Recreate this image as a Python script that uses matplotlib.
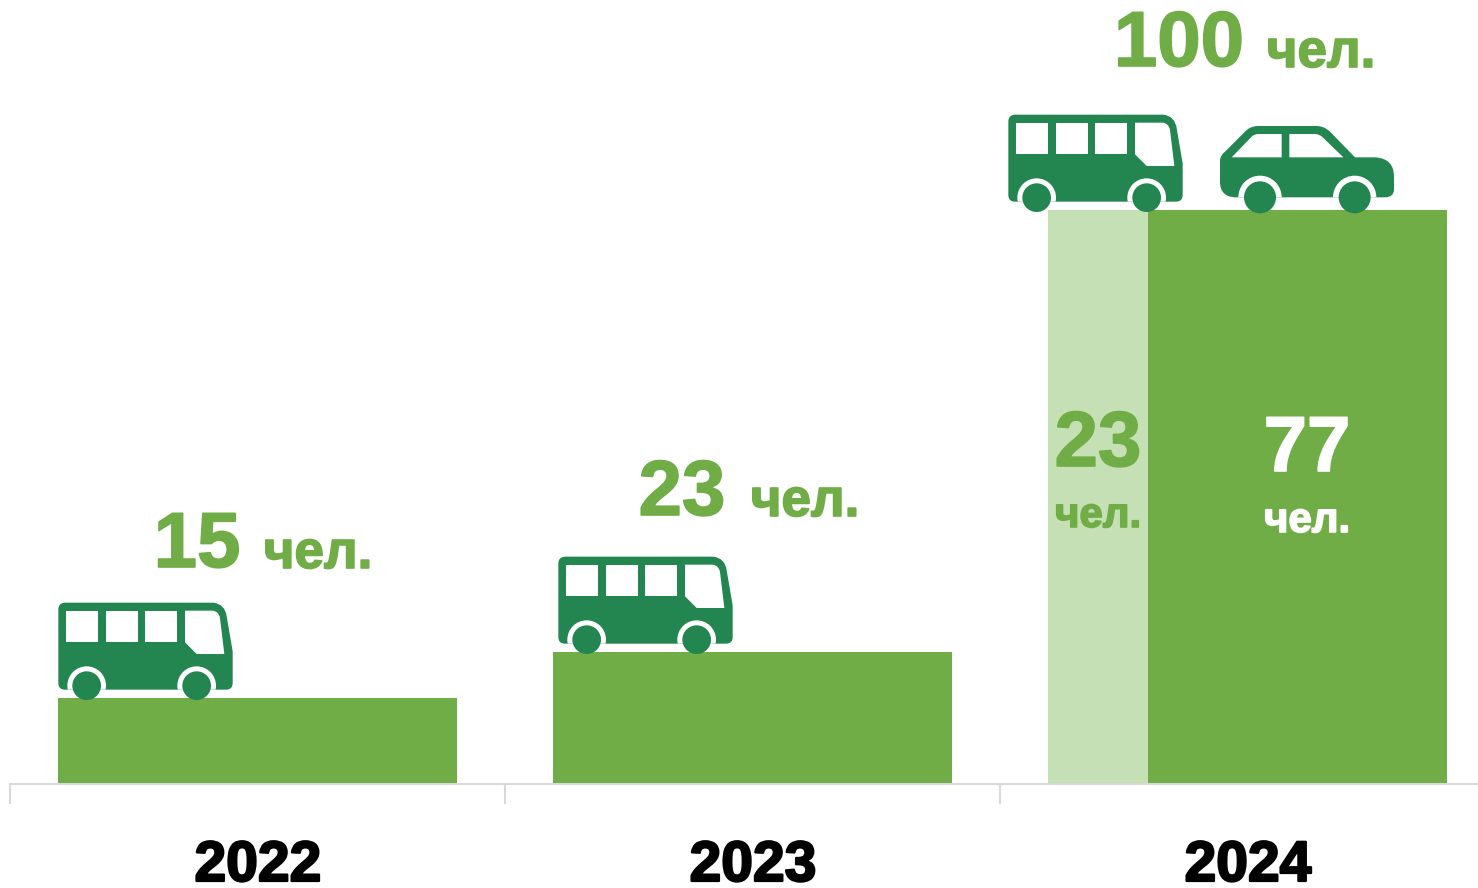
# Bar chart of staff count per year, with bus and car icons sitting on the bars

import matplotlib
matplotlib.use("Agg")
import matplotlib.pyplot as plt
import matplotlib.patheffects as pe
from matplotlib.path import Path
from matplotlib.patches import PathPatch, Circle
from matplotlib.transforms import Affine2D

years = ["2022", "2023", "2024"]
totals = [15, 23, 100]
bus_part = 23
car_part = 77
unit = "чел."

W = 1478
H = 888
GREEN = "#70ad47"
LIGHT = "#c5e0b4"
ICON = "#23854f"
AXIS = "#d9d9d9"

plt.rcParams["font.family"] = ["Liberation Sans", "DejaVu Sans"]

fig = plt.figure(figsize=(W / 100, H / 100), dpi=100, facecolor="white")

# real axes, baseline at y=784px, one category = 495px, 100 people = 574px
ax = fig.add_axes([10 / W, (H - 784) / H, (W - 10) / W, 784 / H])
ax.set_xlim(-0.5, -0.5 + (W - 10) / 495)
ax.set_ylim(0, 784 / 5.74)
for s in ["top", "left", "right"]:
    ax.spines[s].set_visible(False)
ax.spines["bottom"].set_color(AXIS)
ax.spines["bottom"].set_linewidth(1.5)
ax.set_yticks([])
ax.set_xticks([-0.5, 0.5, 1.5])
ax.set_xticklabels([])
ax.tick_params(axis="x", which="major", length=14.4, width=1.5, color=AXIS)

bar_w = 399 / 495
ax.bar([0, 1], totals[:2], width=bar_w, color=GREEN, linewidth=0)
# the 2024 bar is split, 100px light and 299px dark
left_w = 100 / 495
right_w = 299 / 495
x0 = 2 - bar_w / 2
ax.bar(x0, totals[2], width=left_w, align="edge", color=LIGHT, linewidth=0)
ax.bar(x0 + left_w, totals[2], width=right_w, align="edge", color=GREEN, linewidth=0)

# overlay in picture pixels for the icons and the labels
ov = fig.add_axes([0, 0, 1, 1])
ov.set_xlim(0, W)
ov.set_ylim(H, 0)
ov.axis("off")
ov.patch.set_alpha(0)


def label(x, y, s, px, color, stroke=1.2):
    ov.text(x, y, s, fontsize=px * 0.72, fontweight="bold", color=color, ha="center", va="baseline",
            path_effects=[pe.withStroke(linewidth=stroke, foreground=color)])


def shape(points):
    verts = []
    codes = []
    for p in points:
        if len(p) == 2:
            verts.append(p)
            codes.append(Path.LINETO)
        else:
            verts.append((p[0], p[1]))
            verts.append((p[2], p[3]))
            codes.append(Path.CURVE3)
            codes.append(Path.CURVE3)
    codes[0] = Path.MOVETO
    verts.append(verts[0])
    codes.append(Path.CLOSEPOLY)
    return Path(verts, codes)


bus_body = [(25, 65), (25, 44, 46, 44), (490, 44), (525, 48, 530, 85), (548, 190), (548, 285),
            (548, 305, 528, 305), (45, 305), (25, 305, 25, 285)]
bus_windows = [
    [(48, 68), (144, 68), (144, 163), (48, 163)],
    [(168, 68), (263, 68), (263, 163), (168, 163)],
    [(286, 68), (381, 68), (381, 163), (286, 163)],
    [(405, 68), (488, 68), (506, 70, 510, 90), (523, 198), (440, 198), (405, 163)],
]
bus_wheels = [(110, 293), (440, 293)]

car_body = [(660, 180), (662, 165, 675, 155), (735, 95), (750, 78, 775, 78), (950, 78), (972, 78, 990, 95),
            (1065, 172), (1125, 172), (1182, 175, 1182, 230), (1182, 268), (1182, 292, 1155, 292), (705, 292),
            (660, 290, 660, 245)]
car_windows = [
    [(695, 172), (755, 110), (762, 102, 775, 102), (845, 102), (845, 172)],
    [(868, 102), (945, 102), (958, 102, 968, 112), (1030, 172), (868, 172)],
]
car_wheels = [(780, 292), (1064, 292)]


def icon(body, windows, wheels, r_ring, r_wheel, dx, dy):
    tr = Affine2D().scale(1 / 3).translate(dx, dy) + ov.transData
    b = ov.add_patch(PathPatch(shape(body), facecolor=ICON, edgecolor="none", transform=tr))
    for w in windows:
        ov.add_patch(PathPatch(shape(w), facecolor="white", edgecolor="none", transform=tr))
    for c in wheels:
        # the white ring only cuts into the body, it does not cover the bar
        ring = ov.add_patch(Circle(c, r_ring, facecolor="white", edgecolor="none", transform=tr))
        ring.set_clip_path(b)
        ov.add_patch(Circle(c, r_wheel, facecolor=ICON, edgecolor="none", transform=tr))


# crop started at (1000,100), the other buses are the same shape moved
icon(bus_body, bus_windows, bus_wheels, 58, 43, 1000, 100)
icon(car_body, car_windows, car_wheels, 65, 48, 1000, 100)
icon(bus_body, bus_windows, bus_wheels, 58, 43, 550, 542)
icon(bus_body, bus_windows, bus_wheels, 58, 43, 50, 588)

# totals above the bars
label(197, 567, str(totals[0]), 78, GREEN)
label(318, 568, unit, 53, GREEN)
label(682, 515, str(totals[1]), 78, GREEN)
label(805, 516, unit, 53, GREEN)
label(1179, 66, str(totals[2]), 78, GREEN)
label(1321, 67, unit, 53, GREEN)

# parts of the 2024 bar
label(1098, 466, str(bus_part), 78, GREEN)
label(1098, 527, unit, 42, GREEN)
label(1307, 471, str(car_part), 78, "white")
label(1307, 532, unit, 42, "white")

# year labels
year_x = [258, 753, 1248]
for x, y in zip(year_x, years):
    label(x, 881, y, 57, "black", stroke=1.6)

fig.savefig("out.png", dpi=100, facecolor="white")
